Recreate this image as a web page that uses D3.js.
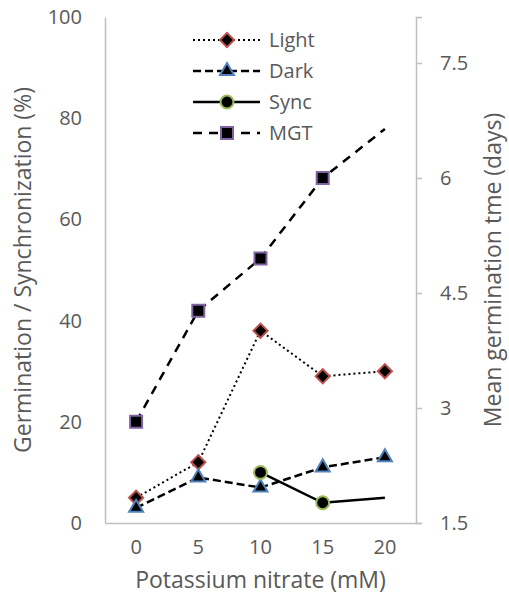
<!DOCTYPE html>
<html>
<head>
<meta charset="utf-8">
<script src="https://cdn.jsdelivr.net/npm/d3@7"></script>
<style>
  body { margin: 0; background: #fff; }
  svg text { font-family: "Open Sans", sans-serif; fill: #595959; }
</style>
</head>
<body>
<svg id="chart" width="509" height="607"></svg>
<script>
'use strict';

// data
const concentrations = ['0', '5', '10', '15', '20'];
const lightValues = [5, 12, 38, 29, 30];
const darkValues = [3, 9, 7, 11, 13];
const syncValues = [null, null, 10, 4, 5];
const mgtValues = [2.82, 4.27, 4.95, 6.0, 6.64];
const syncMarkers = [false, false, true, true, false];
const mgtMarkers = [true, true, true, true, false];
const leftTicks = [0, 20, 40, 60, 80, 100];
const rightTicks = [1.5, 3, 4.5, 6, 7.5];

const svg = d3.select('#chart');
const margin = { top: 17, right: 93, bottom: 84, left: 105 };
const width = +svg.attr('width');
const height = +svg.attr('height');
const plotW = width - margin.left - margin.right;
const plotH = height - margin.top - margin.bottom;

const g = svg.append('g')
  .attr('transform', `translate(${margin.left},${margin.top})`);

const x = d3.scaleBand()
  .domain(concentrations)
  .range([0, plotW]);

const y = d3.scaleLinear().domain([0, 100]).range([plotH, 0]);
const y2 = d3.scaleLinear().domain([1.5, 8.1]).range([plotH, 0]);

const xc = d => x(d) + x.bandwidth() / 2;

// axes
const axisColor = '#bfbfbf';

const xAxis = g.append('g')
  .attr('transform', `translate(0,${plotH})`)
  .call(d3.axisBottom(x).tickSize(0).tickPadding(17));

const yAxis = g.append('g')
  .call(d3.axisLeft(y).tickValues(leftTicks).tickSize(0).tickPadding(23));

const y2Axis = g.append('g')
  .attr('transform', `translate(${plotW},0)`)
  .call(d3.axisRight(y2).tickValues(rightTicks).tickSize(6).tickPadding(18)
    .tickFormat(d3.format('')));

[xAxis, yAxis, y2Axis].forEach(a => {
  a.select('.domain').attr('stroke', axisColor).attr('stroke-width', 1.5);
  a.selectAll('.tick line').attr('stroke', axisColor).attr('stroke-width', 1.5);
  a.selectAll('.tick text').style('font-size', '20px').attr('fill', '#595959');
});

// series
const series = [
  { name: 'Light', values: lightValues, axis: y, dash: '2,3', width: 2,
    shape: d3.symbolSquare, size: 100, rotate: 45, color: '#c0504d', markers: null },
  { name: 'Dark', values: darkValues, axis: y, dash: '8,4', width: 2.5,
    shape: d3.symbolTriangle, size: 85, rotate: 0, color: '#4f81bd', markers: null },
  { name: 'Sync', values: syncValues, axis: y, dash: null, width: 2.5,
    shape: d3.symbolCircle, size: 130, rotate: 0, color: '#9bbb59', markers: syncMarkers },
  { name: 'MGT', values: mgtValues, axis: y2, dash: '9,7', width: 2.5,
    shape: d3.symbolSquare, size: 144, rotate: 0, color: '#8064a2', markers: mgtMarkers }
];

series.forEach(s => {
  const pts = concentrations.map((c, i) => ({ c, v: s.values[i], i }))
    .filter(p => p.v !== null);

  const line = d3.line()
    .x(p => xc(p.c))
    .y(p => s.axis(p.v));

  g.append('path')
    .datum(pts)
    .attr('fill', 'none')
    .attr('stroke', '#000')
    .attr('stroke-width', s.width)
    .attr('stroke-dasharray', s.dash)
    .attr('d', line);

  g.selectAll(null)
    .data(pts.filter(p => !s.markers || s.markers[p.i]))
    .enter().append('path')
      .attr('d', d3.symbol().type(s.shape).size(s.size))
      .attr('transform', p => `translate(${xc(p.c)},${s.axis(p.v)}) rotate(${s.rotate})`)
      .attr('fill', '#000')
      .attr('stroke', s.color)
      .attr('stroke-width', 2);
});

// legend
const legend = svg.append('g').attr('transform', 'translate(193,40)');
const rowH = 31;

series.forEach((s, i) => {
  const row = legend.append('g').attr('transform', `translate(0,${i * rowH})`);
  row.append('line')
    .attr('x1', 0).attr('x2', 67)
    .attr('stroke', '#000')
    .attr('stroke-width', s.width)
    .attr('stroke-dasharray', s.dash);
  row.append('path')
    .attr('d', d3.symbol().type(s.shape).size(s.size))
    .attr('transform', `translate(34,0) rotate(${s.rotate})`)
    .attr('fill', '#000')
    .attr('stroke', s.color)
    .attr('stroke-width', 2);
  row.append('text')
    .attr('x', 76)
    .attr('dy', '0.35em')
    .style('font-size', '20px')
    .text(s.name);
});

// axis titles
svg.append('text')
  .attr('x', margin.left + plotW / 2)
  .attr('y', 588)
  .attr('text-anchor', 'middle')
  .style('font-size', '23px')
  .text('Potassium nitrate (mM)');

svg.append('text')
  .attr('transform', `translate(31,${margin.top + plotH / 2}) rotate(-90)`)
  .attr('text-anchor', 'middle')
  .style('font-size', '23px')
  .text('Germination / Synchronization (%)');

svg.append('text')
  .attr('transform', `translate(501,${margin.top + plotH / 2}) rotate(-90)`)
  .attr('text-anchor', 'middle')
  .style('font-size', '23px')
  .text('Mean germination tme (days)');
</script>
</body>
</html>
